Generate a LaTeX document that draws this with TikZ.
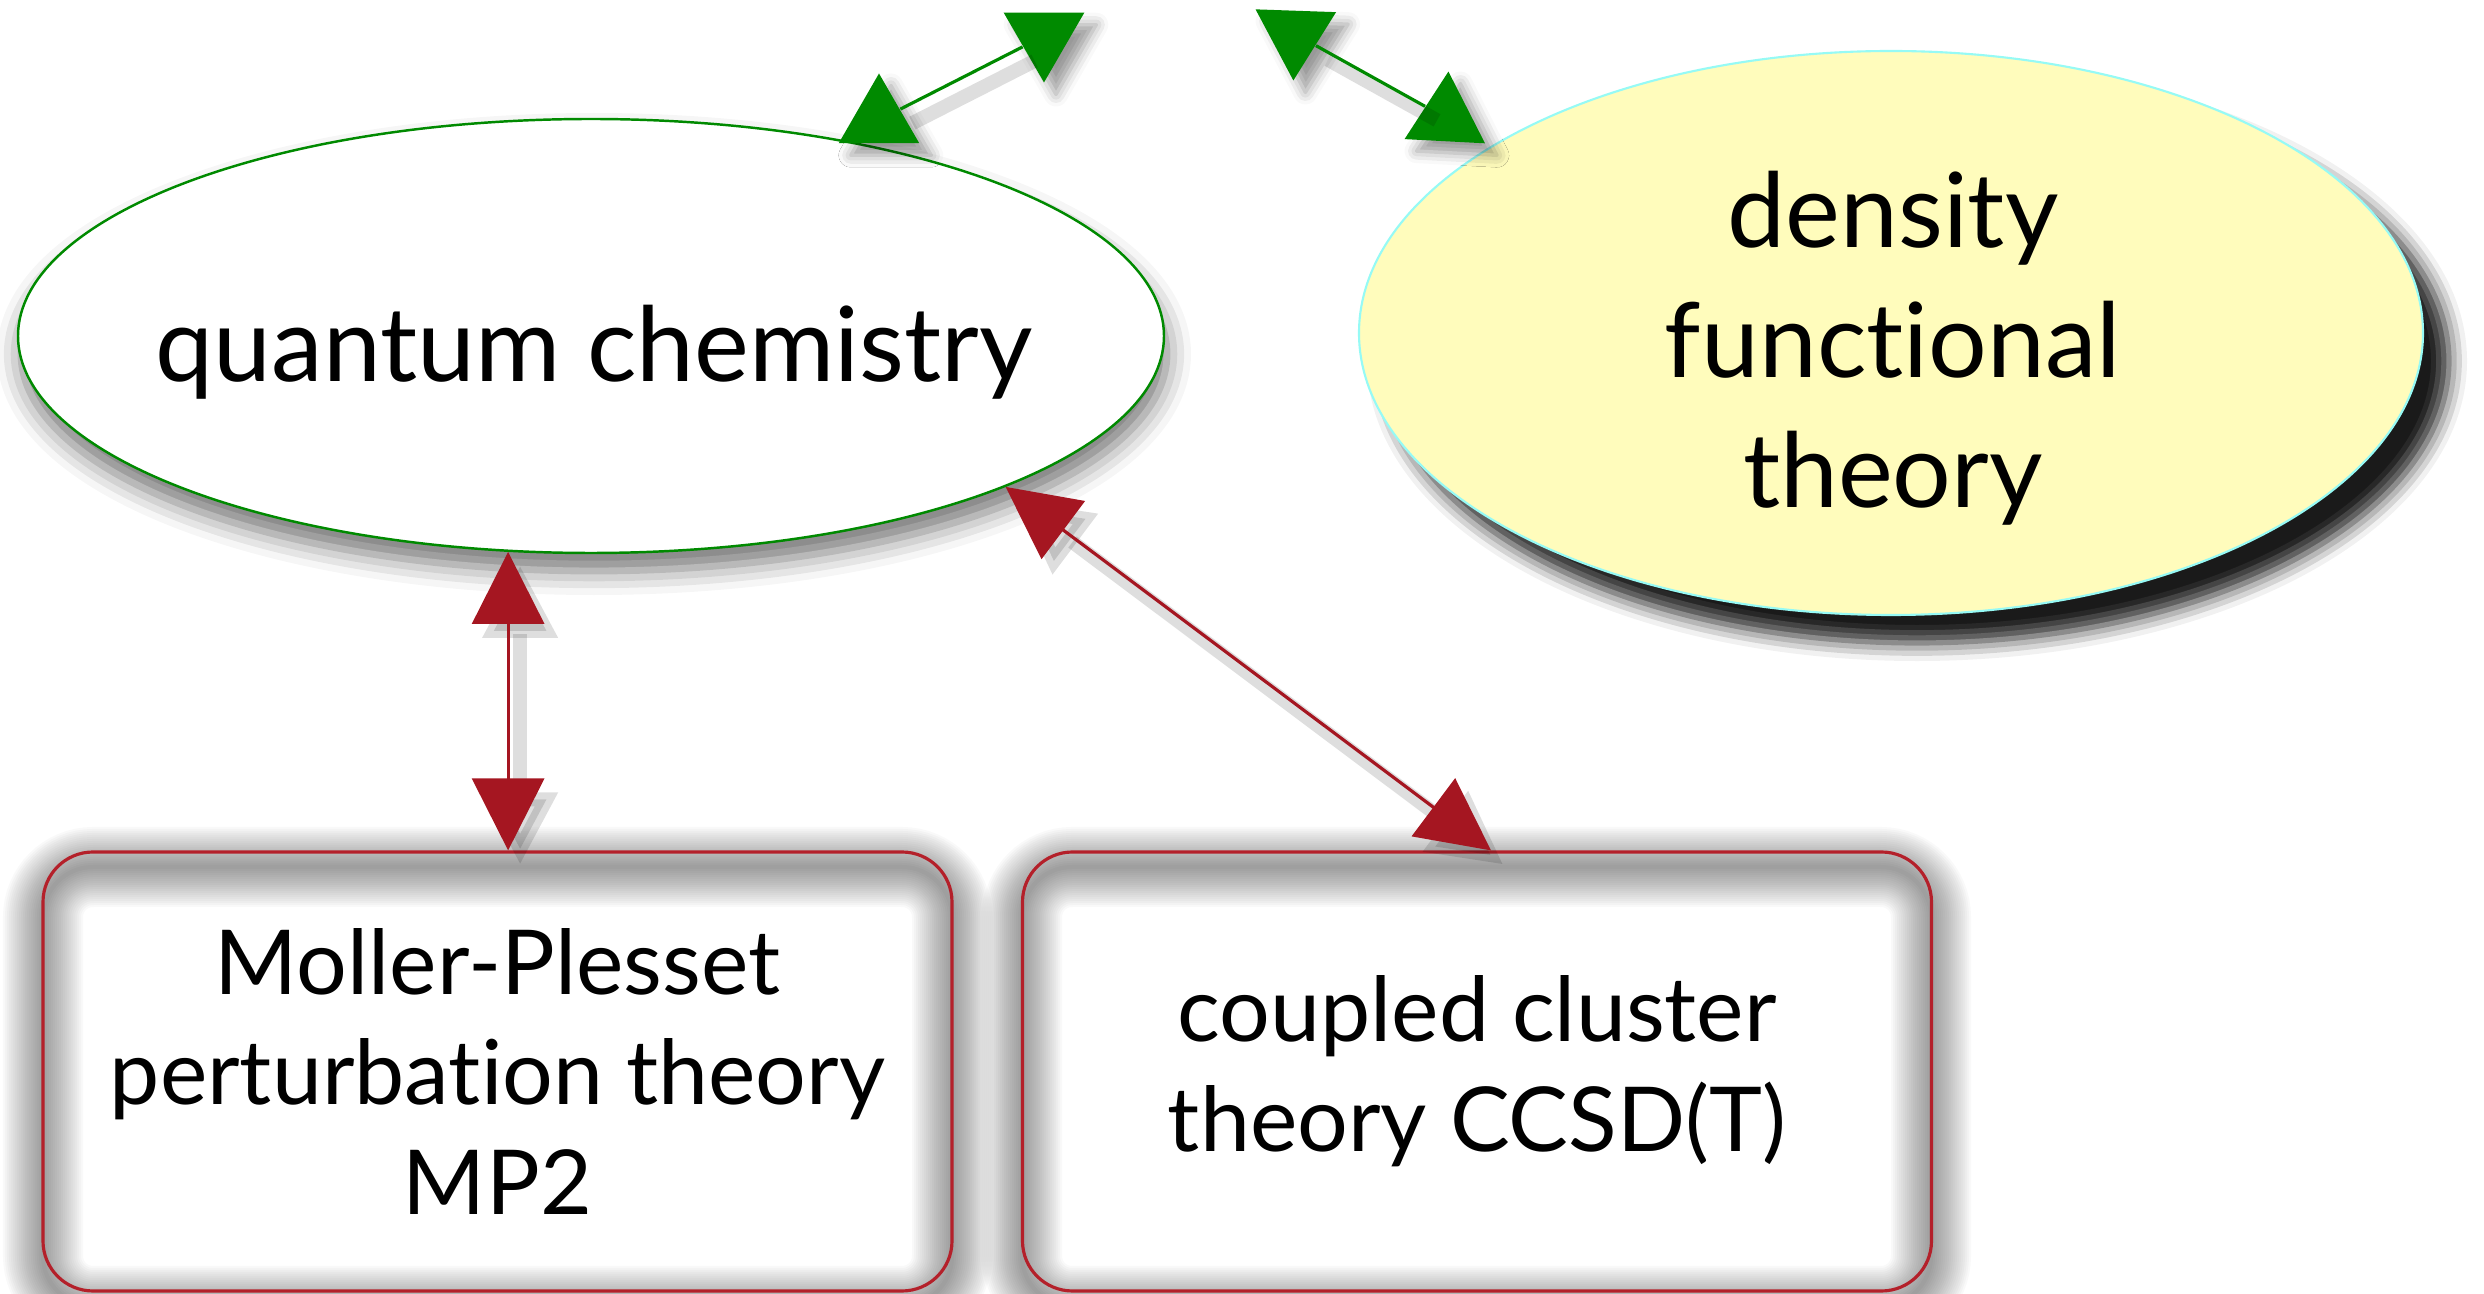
\documentclass[tikz,border=0pt]{standalone}
\usepackage{fontspec}
\setmainfont{Lato}[Ligatures=NoCommon]
\usetikzlibrary{arrows.meta,shapes.geometric,shadows.blur}

\definecolor{qcgreen}{RGB}{0,138,0}
\definecolor{linkred}{RGB}{165,22,33}
\definecolor{boxred}{RGB}{180,32,42}
\definecolor{dftyellow}{RGB}{255,252,188}
\definecolor{dftcyan}{RGB}{150,250,245}

\begin{document}
\begin{tikzpicture}[x=1cm,y=1cm,
    bigtext/.style={font=\fontsize{29.5}{37}\selectfont,align=center},
    boxtext/.style={font=\fontsize{25.5}{31.3}\selectfont},
    method/.style={draw=boxred,line width=0.9pt,rounded corners=5mm,
      minimum width=9.09cm,minimum height=4.39cm,align=center,boxtext},
    glow/.style={draw=black,opacity=0.022,rounded corners=5mm},
    greenhead/.style={regular polygon,regular polygon sides=3,fill=qcgreen,
      minimum size=9.3mm,inner sep=0pt,
      blur shadow={shadow xshift=1.2mm,shadow yshift=-1.2mm,shadow blur radius=1.2mm,shadow opacity=40}},
    greenlink/.style={draw=qcgreen,line width=0.9pt},
    bothtips/.style={{Triangle[length=7.2mm,width=7.2mm]}-{Triangle[length=7.2mm,width=7.2mm]}},
    redlink/.style={bothtips,draw=linkred,line width=0.9pt},
    lineshadow/.style={draw=black,opacity=0.13,line width=4pt,transform canvas={shift={(1.2mm,-1.4mm)}}}
  ]
  \useasboundingbox (0,0) rectangle (24.84,-12.94);

  % soft glow round the two boxes, drawn first
  \foreach \x in {0.43,10.22}
    \foreach \w in {0.4,0.8,...,8.4}
      \draw[glow,line width=\w mm] (\x,-13.06) rectangle ++(9.09,4.39);

  % the two big fields
  \node[ellipse,draw=qcgreen,line width=0.7pt,fill=white,minimum width=11.46cm,minimum height=4.34cm,
    blur shadow={shadow xshift=0.3mm,shadow yshift=-1.8mm,shadow blur radius=2.4mm,shadow opacity=55}] (qc) at (5.91,-3.36) {};
  \node[bigtext] (qctext) at (5.94,-3.52) {quantum chemistry};
  \node[ellipse,draw=dftcyan,line width=0.6pt,fill=dftyellow,minimum width=10.64cm,minimum height=5.64cm,
    blur shadow={shadow xshift=2.6mm,shadow yshift=-2.8mm,shadow blur radius=1.8mm,shadow opacity=90}] (dft) at (18.91,-3.33) {};
  \node[bigtext] (dfttext) at (18.93,-3.48) {density\\functional\\theory};

  % methods
  \node[method] (mp) at (4.975,-10.715) {Moller-Plesset\\perturbation theory\\MP2};
  \node[method] (cc) at (14.77,-10.715) {coupled cluster\\theory CCSD(T)};

  % green heads, cut off at the top
  \node[greenhead] (qcnear) at (8.79,-1.20) {};
  \node[greenhead,shape border rotate=180] (qcfar) at (10.44,-0.36) {};
  \node[greenhead,shape border rotate=180,rotate=-2] (dftfar) at (12.95,-0.34) {};
  \node[greenhead,rotate=-3] (dftnear) at (14.46,-1.18) {};
  \draw[lineshadow] (qcnear) -- (qcfar);
  \draw[lineshadow] (dftfar) -- (dftnear);
  \draw[greenlink] (qcnear) -- (qcfar);
  \draw[greenlink] (dftfar) -- (dftnear);

  % red links
  \draw[bothtips,lineshadow] (qc.249) -- (qc.249 |- mp.north);
  \draw[bothtips,lineshadow] (qc.340) -- ([xshift=1.4mm]cc.north);
  \draw[redlink] (qc.249) -- (qc.249 |- mp.north);
  \draw[redlink] (qc.340) -- ([xshift=1.4mm]cc.north);
\end{tikzpicture}
\end{document}
